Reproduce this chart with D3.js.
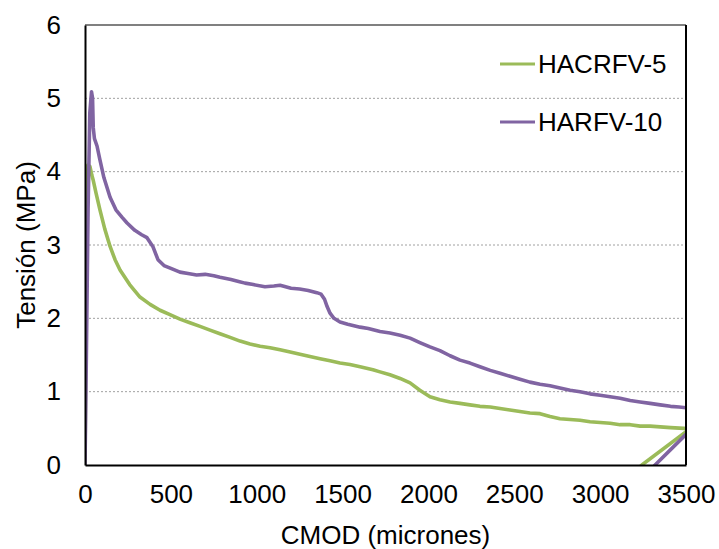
<!DOCTYPE html>
<html><head><meta charset="utf-8">
<script src="https://cdn.jsdelivr.net/npm/d3@7"></script>
<style>body{margin:0;background:#fff}svg{display:block}text{font-family:"Liberation Sans",Arial,sans-serif;fill:#000}</style>
</head><body>
<svg id="c" width="719" height="549"></svg>
<script>
const seriesNames = ["HACRFV-5", "HARFV-10"];
const xTicks = [0, 500, 1000, 1500, 2000, 2500, 3000, 3500];
const yTicks = [0, 1, 2, 3, 4, 5, 6];
// HACRFV-5 : [CMOD, Tensión]
const hacrfv5 = [[0,0],[6,2.0],[12,3.6],[17,4.09],[29,4.07],[40,3.95],[47,3.89],[65,3.70],[87,3.48],[115,3.22],[146,2.98],[175,2.80],[204,2.66],[260,2.46],[320,2.29],[379,2.19],[437,2.11],[495,2.05],[553,1.99],[611,1.94],[670,1.89],[728,1.84],[786,1.79],[845,1.74],[903,1.69],[961,1.65],[1020,1.62],[1078,1.60],[1136,1.57],[1195,1.54],[1252,1.51],[1310,1.48],[1369,1.45],[1427,1.42],[1485,1.39],[1543,1.37],[1602,1.34],[1677,1.30],[1718,1.27],[1776,1.23],[1835,1.18],[1893,1.12],[1950,1.02],[2009,0.93],[2067,0.89],[2126,0.86],[2184,0.84],[2242,0.82],[2300,0.80],[2360,0.79],[2417,0.77],[2475,0.75],[2533,0.73],[2591,0.71],[2650,0.70],[2708,0.66],[2766,0.63],[2825,0.62],[2883,0.61],[2941,0.59],[3000,0.58],[3058,0.57],[3116,0.55],[3175,0.55],[3233,0.53],[3291,0.53],[3350,0.52],[3410,0.51],[3488,0.50],[3520,0.49],[3243,0],[3220,-0.05]];
// HARFV-10 : [CMOD, Tensión]
const harfv10 = [[0,0],[8,1.5],[18,3.5],[28,4.8],[38,5.09],[44,5.0],[48,4.6],[55,4.45],[70,4.35],[87,4.16],[110,3.92],[146,3.65],[180,3.48],[215,3.38],[245,3.30],[290,3.20],[330,3.14],[361,3.10],[395,2.98],[425,2.80],[460,2.72],[500,2.68],[553,2.63],[600,2.61],[650,2.59],[700,2.60],[750,2.58],[786,2.56],[850,2.53],[900,2.50],[932,2.48],[980,2.46],[1048,2.43],[1100,2.44],[1136,2.45],[1200,2.41],[1250,2.40],[1300,2.38],[1350,2.35],[1375,2.33],[1395,2.26],[1410,2.16],[1427,2.07],[1450,2.00],[1485,1.95],[1530,1.92],[1602,1.88],[1650,1.86],[1718,1.82],[1776,1.80],[1835,1.77],[1893,1.73],[1950,1.67],[2009,1.61],[2067,1.56],[2126,1.49],[2184,1.43],[2242,1.39],[2300,1.34],[2360,1.29],[2417,1.25],[2475,1.21],[2533,1.17],[2591,1.13],[2650,1.10],[2708,1.08],[2766,1.05],[2825,1.02],[2883,1.00],[2941,0.97],[3000,0.95],[3058,0.93],[3116,0.91],[3175,0.88],[3233,0.86],[3291,0.84],[3350,0.82],[3410,0.80],[3460,0.79],[3500,0.78],[3630,0.72],[3320,0],[3300,-0.05]];
const colors = ["#9bbb59", "#8064a2"];

const svg = d3.select("#c");
const L = 85, R = 686, T = 25, B = 465;
const x = d3.scaleLinear().domain([0, 3500]).range([L, R]);
const y = d3.scaleLinear().domain([0, 6]).range([B, T]);

svg.append("defs").append("clipPath").attr("id","clip").append("rect")
  .attr("x", L).attr("y", T).attr("width", R - L).attr("height", B - T);

// gridlines
svg.append("g").selectAll("line").data(yTicks.filter(d => d > 0 && d < 6)).join("line")
  .attr("x1", L).attr("x2", R).attr("y1", d => y(d)).attr("y2", d => y(d))
  .attr("stroke", "#a0a0a0").attr("stroke-width", 1).attr("stroke-dasharray", "2,2");

// series
const line = d3.line().x(d => x(d[0])).y(d => y(d[1]));
const g = svg.append("g").attr("clip-path", "url(#clip)");
[hacrfv5, harfv10].forEach((s, i) => {
  g.append("path").datum(s).attr("d", line).attr("fill", "none")
    .attr("stroke", colors[i]).attr("stroke-width", 3.6).attr("stroke-linejoin", "round");
});

// frame
svg.append("line").attr("x1", L).attr("x2", R).attr("y1", T).attr("y2", T).attr("stroke", "#808080").attr("stroke-width", 2);
svg.append("line").attr("x1", R).attr("x2", R).attr("y1", T).attr("y2", B).attr("stroke", "#000").attr("stroke-width", 2);

// axes
const xAxis = d3.axisBottom(x).tickValues(xTicks).tickSize(0).tickPadding(20).tickFormat(d3.format("d"));
const yAxis = d3.axisLeft(y).tickValues(yTicks).tickSize(0).tickPadding(24).tickFormat(d3.format("d"));
const gx = svg.append("g").attr("transform", `translate(0,${B})`).call(xAxis);
const gy = svg.append("g").attr("transform", `translate(${L},0)`).call(yAxis);
[gx, gy].forEach(a => {
  a.select(".domain").attr("stroke", "#000").attr("stroke-width", 2);
  a.selectAll("text").style("font-size", "26px").style("font-family", "'Liberation Sans', Arial, sans-serif").attr("fill", "#000");
});

svg.append("text").attr("x", (L + R) / 2).attr("y", 544).attr("text-anchor", "middle")
  .style("font-size", "26px").text("CMOD (micrones)");
svg.append("text").attr("transform", `translate(35,${(T + B) / 2}) rotate(-90)`).attr("text-anchor", "middle")
  .style("font-size", "26px").text("Tensión (MPa)");

// legend
const ly = [64, 122];
seriesNames.forEach((n, i) => {
  svg.append("line").attr("x1", 500).attr("x2", 535).attr("y1", ly[i]).attr("y2", ly[i])
    .attr("stroke", colors[i]).attr("stroke-width", 3);
  svg.append("text").attr("x", 538).attr("y", ly[i]).attr("dy", "0.35em")
    .style("font-size", "26px").text(n);
});
</script>
</body></html>
